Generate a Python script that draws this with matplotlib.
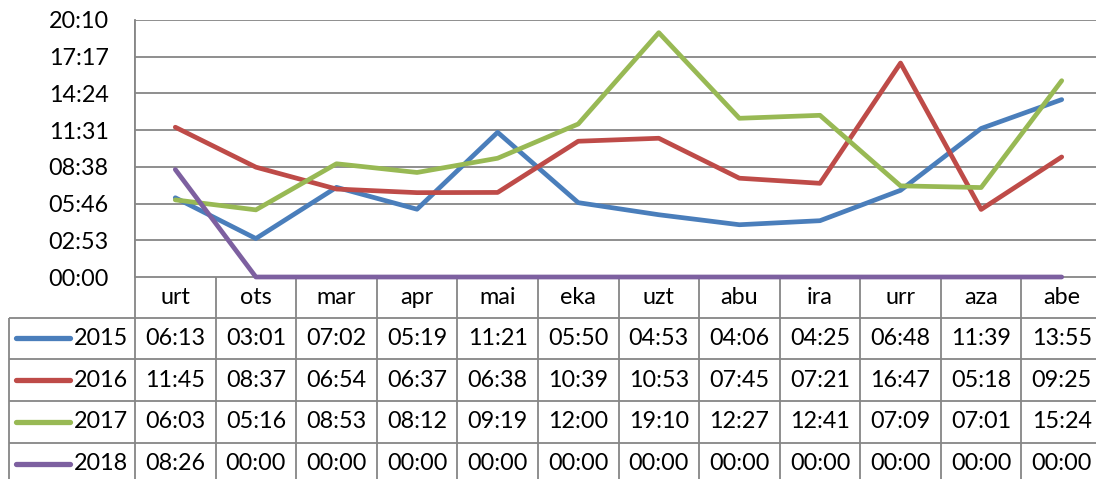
import matplotlib
matplotlib.use("Agg")
import matplotlib.pyplot as plt
import numpy as np

plt.rcParams['font.family'] = ['Lato', 'DejaVu Sans']

months = ['urt', 'ots', 'mar', 'apr', 'mai', 'eka', 'uzt', 'abu', 'ira', 'urr', 'aza', 'abe']
years = ['2015', '2016', '2017', '2018']
s2015 = ['06:13', '03:01', '07:02', '05:19', '11:21', '05:50', '04:53', '04:06', '04:25', '06:48', '11:39', '13:55']
s2016 = ['11:45', '08:37', '06:54', '06:37', '06:38', '10:39', '10:53', '07:45', '07:21', '16:47', '05:18', '09:25']
s2017 = ['06:03', '05:16', '08:53', '08:12', '09:19', '12:00', '19:10', '12:27', '12:41', '07:09', '07:01', '15:24']
s2018 = ['08:26', '00:00', '00:00', '00:00', '00:00', '00:00', '00:00', '00:00', '00:00', '00:00', '00:00', '00:00']
colors = ['#4A7EBB', '#BE4B48', '#98B954', '#7D60A0']
series = [s2015, s2016, s2017, s2018]

def to_min(s):
    h, m = s.split(':')
    return int(h) * 60 + int(m)

def fmt(v):
    tot = int(round(v))
    return f"{tot // 60:02d}:{tot % 60:02d}"

W, H = 1096, 479
fig = plt.figure(figsize=(W / 100, H / 100), dpi=100)

# layout in pixels
x0, x1 = 135, 1102
ytop, ybase = 20, 277
gray = '#868686'
fs = 16.8

ax = fig.add_axes([x0 / W, (H - ybase) / H, (x1 - x0) / W, (ybase - ytop) / H])
step = 172.8
yt = np.arange(8) * step
ax.set_ylim(0, yt[-1])
ax.set_xlim(-0.5, len(months) - 0.5)
ax.set_yticks(yt)
ax.set_yticklabels([fmt(v) for v in yt], fontsize=fs)
ax.tick_params(axis='y', length=0, pad=19)
ax.set_xticks([])
for sp in ['top', 'right', 'bottom']:
    ax.spines[sp].set_visible(False)
ax.spines['left'].set_color(gray)
ax.spines['left'].set_linewidth(1.3)
ax.yaxis.grid(True, color=gray, linewidth=1.3)
ax.set_axisbelow(True)

xs = np.arange(len(months))
for vals, c in zip(series, colors):
    ax.plot(xs, [to_min(v) for v in vals], color=c, linewidth=3.4,
            solid_capstyle='round', solid_joinstyle='round', zorder=3, clip_on=False)

# table overlay
tb = fig.add_axes([0, 0, 1, 1], zorder=-1)
tb.set_xlim(0, W)
tb.set_ylim(H, 0)
tb.axis('off')

colw = (x1 - x0) / len(months)
row_lines = [317.5, 359.2, 401, 442.7, 484.4]
hdr_c = (ybase + row_lines[0]) / 2
lkw = dict(color=gray, linewidth=1.3, solid_capstyle='butt')

# horizontal lines
tb.plot([x0, x1], [ybase, ybase], **lkw)
for yl in row_lines:
    tb.plot([9, x1], [yl, yl], **lkw)
# vertical lines
tb.plot([9, 9], [row_lines[0], H + 5], **lkw)
tb.plot([x0, x0], [ytop, H + 5], **lkw)
for k in range(1, len(months) + 1):
    xv = x0 + k * colw
    tb.plot([xv, xv], [ybase, H + 5], **lkw)

for k, m in enumerate(months):
    tb.text(x0 + (k + 0.5) * colw, hdr_c, m, ha='center', va='center', fontsize=fs)

for r, (yr, vals, c) in enumerate(zip(years, series, colors)):
    yc = (row_lines[r] + row_lines[r + 1]) / 2
    tb.plot([16, 70], [yc, yc], color=c, linewidth=3.8, solid_capstyle='round')
    tb.text(74, yc, yr, ha='left', va='center', fontsize=fs)
    for k, v in enumerate(vals):
        tb.text(x0 + (k + 0.5) * colw, yc, v, ha='center', va='center', fontsize=fs)

fig.savefig('out.png', dpi=100)
